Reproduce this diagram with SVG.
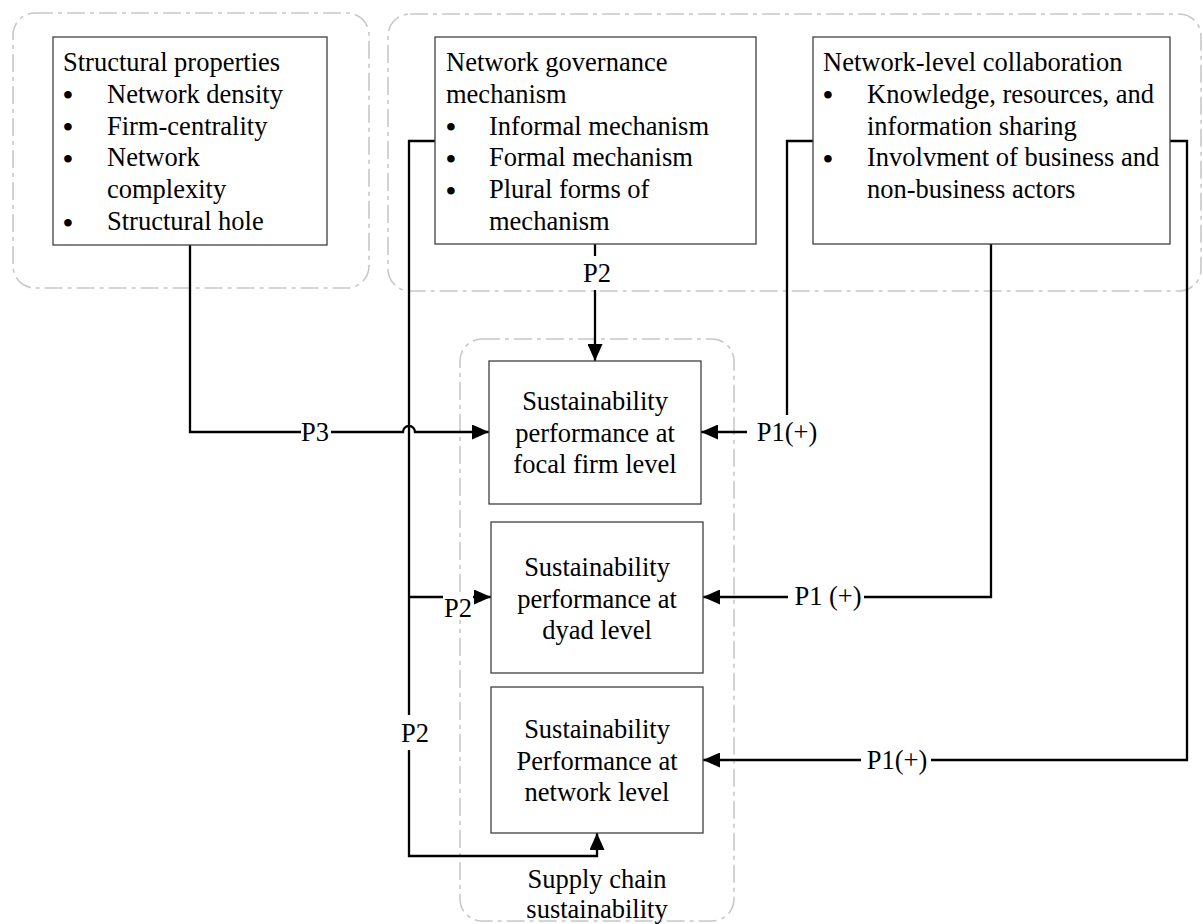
<svg xmlns="http://www.w3.org/2000/svg" width="1203" height="924" viewBox="0 0 1203 924">
<style>
.grp{fill:none;stroke:#c8c8c8;stroke-width:1.6;stroke-dasharray:18,5,4,5}
.box{fill:#fff;stroke:#404040;stroke-width:1.3}
.c{text-anchor:middle}
.b{font-size:28px;font-weight:bold}
.con{fill:none;stroke:#000;stroke-width:2.3}
.bg{fill:#fff}
</style>
<defs>
<marker id="arr" markerUnits="userSpaceOnUse" markerWidth="17" markerHeight="15" refX="17" refY="7.5" orient="auto">
<path d="M0,0 L17,7.5 L0,15 z" fill="#000"/>
</marker>
</defs>
<rect fill="#fff" x="0" y="0" width="1203" height="924"/>
<g id="groups">
<rect class="grp" x="13" y="13" width="356" height="275" rx="22"/>
<rect class="grp" x="388" y="14" width="813" height="277" rx="22"/>
<rect class="grp" x="460" y="339" width="274" height="582" rx="22"/>
</g>
<g font-family="Liberation Serif, Times New Roman, DejaVu Serif, serif" font-size="26.5" fill="#000">
<g id="connectors">
<path class="con" d="M190,245 V432 H403 A6,6 0 0 1 415,432 H489" marker-end="url(#arr)"/>
<path class="con" d="M595,244 V361" marker-end="url(#arr)"/>
<path class="con" d="M435,141 H409 V856 H597 V833" marker-end="url(#arr)"/>
<path class="con" d="M409,597 H491" marker-end="url(#arr)"/>
<path class="con" d="M813,141 H787 V432 H701" marker-end="url(#arr)"/>
<path class="con" d="M991,244 V597 H703" marker-end="url(#arr)"/>
<path class="con" d="M1170,141 H1187 V760 H703" marker-end="url(#arr)"/>
<rect class="bg" x="301" y="422" width="30" height="22"/>
<text class="c" x="315" y="441">P3</text>
<rect class="bg" x="582" y="256" width="30" height="34"/>
<text class="c" x="597" y="282">P2</text>
<rect class="bg" x="400" y="715" width="31" height="35"/>
<text class="c" x="415" y="742">P2</text>
<rect class="bg" x="443" y="592" width="30" height="28"/>
<text class="c" x="458" y="617">P2</text>
<rect class="bg" x="747" y="415" width="74" height="30"/>
<text class="c" x="787" y="441">P1(+)</text>
<rect class="bg" x="788" y="585" width="76" height="28"/>
<text class="c" x="828" y="605">P1 (+)</text>
<rect class="bg" x="861" y="748" width="70" height="28"/>
<text class="c" x="897" y="769">P1(+)</text>
</g>
<g id="structural">
<rect class="box" x="53" y="37" width="274" height="208"/>
<text x="63" y="71">Structural properties</text>
<text class="b" x="63" y="104">•</text><text x="107" y="102.8">Network density</text>
<text class="b" x="63" y="136">•</text><text x="107" y="134.6">Firm-centrality</text>
<text class="b" x="63" y="168">•</text><text x="107" y="166.4">Network</text>
<text x="107" y="198.2">complexity</text>
<text class="b" x="63" y="231.5">•</text><text x="107" y="230">Structural hole</text>
</g>
<g id="governance">
<rect class="box" x="435" y="37" width="321" height="207"/>
<text x="446" y="71">Network governance</text>
<text x="446" y="102.8">mechanism</text>
<text class="b" x="446" y="136">•</text><text x="489" y="134.6">Informal mechanism</text>
<text class="b" x="446" y="168">•</text><text x="489" y="166.4">Formal mechanism</text>
<text class="b" x="446" y="199.5">•</text><text x="489" y="198.2">Plural forms of</text>
<text x="489" y="230">mechanism</text>
</g>
<g id="collaboration">
<rect class="box" x="813" y="37" width="357" height="207"/>
<text x="823" y="71">Network-level collaboration</text>
<text class="b" x="823" y="104">•</text><text x="867" y="102.8">Knowledge, resources, and</text>
<text x="867" y="134.6">information sharing</text>
<text class="b" x="823" y="168">•</text><text x="867" y="166.4">Involvment of business and</text>
<text x="867" y="198.2">non-business actors</text>
</g>
<g id="focal">
<rect class="box" x="489" y="361" width="212" height="143"/>
<text class="c" x="595" y="410">Sustainability</text>
<text class="c" x="595" y="441.5">performance at</text>
<text class="c" x="595" y="473">focal firm level</text>
</g>
<g id="dyad">
<rect class="box" x="491" y="522" width="212" height="151"/>
<text class="c" x="597" y="576">Sustainability</text>
<text class="c" x="597" y="607.5">performance at</text>
<text class="c" x="597" y="639">dyad level</text>
</g>
<g id="network">
<rect class="box" x="491" y="687" width="212" height="146"/>
<text class="c" x="597" y="738">Sustainability</text>
<text class="c" x="597" y="769.5">Performance at</text>
<text class="c" x="597" y="801">network level</text>
</g>
<g id="supply-label">
<text class="c" x="597" y="888">Supply chain</text>
<text class="c" x="597" y="918">sustainability</text>
</g>
</g>
</svg>
